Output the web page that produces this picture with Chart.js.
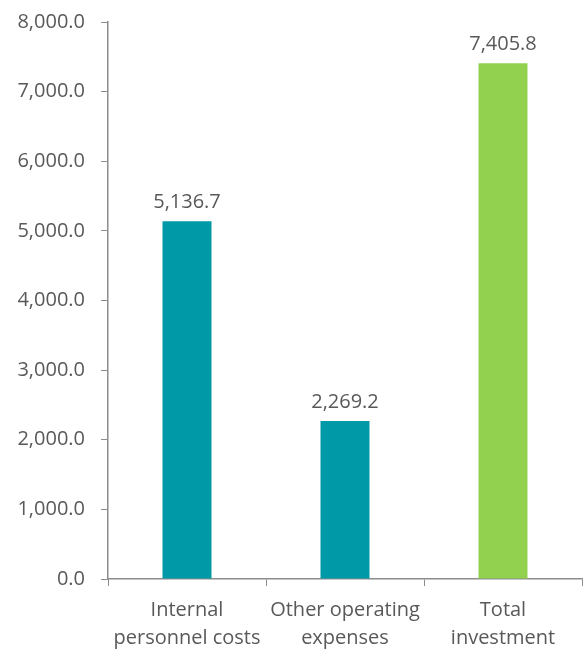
<!DOCTYPE html>
<html lang="en">
<head>
    <meta charset="UTF-8">
    <title>Investment breakdown</title>
    <style>
        body {
            margin: 0;
            background: #ffffff;
        }
        .chart-box {
            position: relative;
            width: 584px;
            height: 650px;
        }
    </style>
    <script src="https://cdn.jsdelivr.net/npm/chart.js"></script>
</head>
<body>
    <div class="chart-box">
        <canvas id="costChart"></canvas>
    </div>

    <script>
        const categories = [
            ['Internal', 'personnel costs'],
            ['Other operating', 'expenses'],
            ['Total', 'investment']
        ];
        const values = [5136.7, 2269.2, 7405.8];
        const barColors = ['#0099a7', '#0099a7', '#92d050'];

        const textColor = '#595959';
        const axisColor = '#8c8c8c';
        const fontFamily = '"Open Sans", sans-serif';

        const fmt = v => v.toLocaleString('en-US', { minimumFractionDigits: 1, maximumFractionDigits: 1 });

        // simple value labels above the bars
        const valueLabels = {
            id: 'valueLabels',
            afterDatasetsDraw(chart) {
                const ctx = chart.ctx;
                const meta = chart.getDatasetMeta(0);
                ctx.save();
                ctx.font = '20px ' + fontFamily;
                ctx.fillStyle = textColor;
                ctx.textAlign = 'center';
                ctx.textBaseline = 'bottom';
                meta.data.forEach((bar, i) => {
                    ctx.fillText(fmt(values[i]), bar.x, bar.y - 9);
                });
                ctx.restore();
            }
        };

        new Chart(document.getElementById('costChart'), {
            type: 'bar',
            data: {
                labels: categories,
                datasets: [{
                    data: values,
                    backgroundColor: barColors,
                    categoryPercentage: 1,
                    barPercentage: 0.31
                }]
            },
            options: {
                responsive: true,
                maintainAspectRatio: false,
                animation: false,
                layout: {
                    padding: { top: 22, right: 2, left: 0, bottom: 0 }
                },
                plugins: {
                    legend: { display: false },
                    tooltip: { enabled: false }
                },
                scales: {
                    x: {
                        grid: {
                            offset: true,
                            drawOnChartArea: false,
                            tickLength: 7,
                            color: axisColor
                        },
                        border: { color: axisColor, width: 1.5 },
                        ticks: {
                            color: textColor,
                            font: { family: fontFamily, size: 20, lineHeight: 1.4 },
                            padding: 10,
                            maxRotation: 0
                        },
                        afterFit(axis) {
                            axis.height = 71;
                            axis.paddingLeft = 0;
                            axis.paddingRight = 0;
                        }
                    },
                    y: {
                        min: 0,
                        max: 8000,
                        grid: {
                            drawOnChartArea: false,
                            tickLength: 7,
                            color: axisColor
                        },
                        border: { color: axisColor, width: 1.5 },
                        ticks: {
                            stepSize: 1000,
                            color: textColor,
                            font: { family: fontFamily, size: 20 },
                            padding: 16,
                            callback: v => fmt(v)
                        },
                        afterFit(axis) {
                            axis.width = 108;
                            axis.paddingTop = 0;
                            axis.paddingBottom = 0;
                        }
                    }
                }
            },
            plugins: [valueLabels]
        });
    </script>
</body>
</html>
